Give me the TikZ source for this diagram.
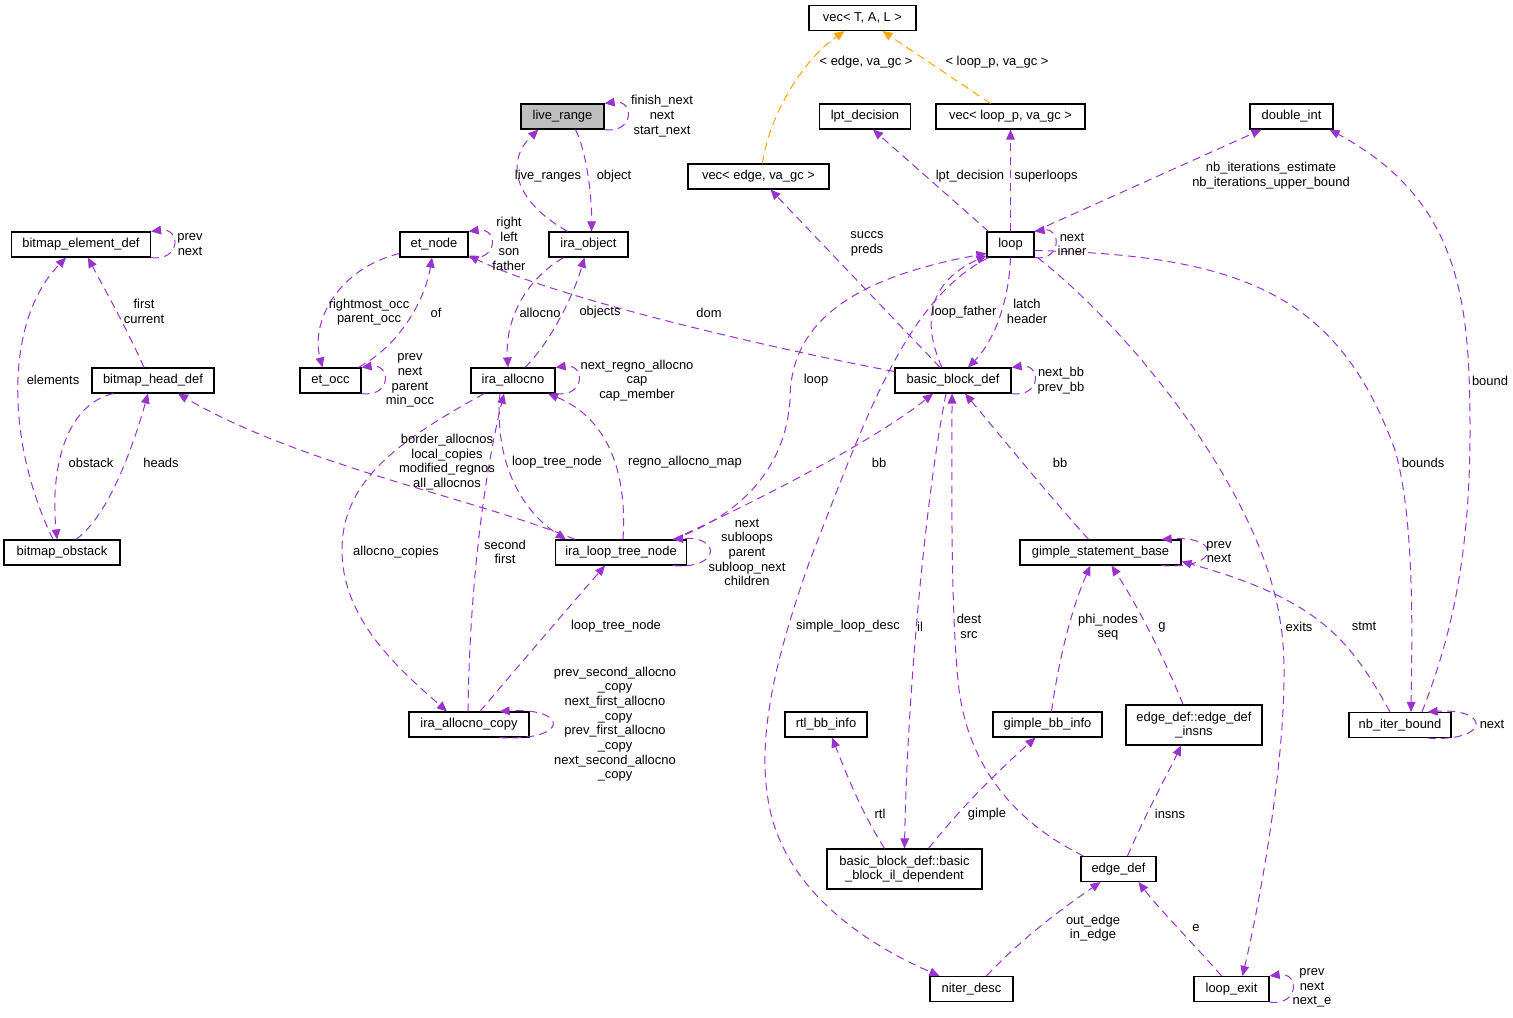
\documentclass[tikz,border=0pt]{standalone}
\usepackage{fontspec}
\setmainfont{Liberation Sans}
\usepackage{xcolor}
\usetikzlibrary{arrows.meta,calc}

\definecolor{memberPurple}{HTML}{9A32CD}
\definecolor{tmplOrange}{HTML}{FFA500}
\definecolor{focusGray}{HTML}{BFBFBF}

\tikzset{
  cls/.style={draw=black, line width=0.9pt, fill=white, inner sep=0pt, align=center,
    minimum height=18.75pt, minimum width=#1*0.75pt, font=\fontsize{9.7}{11}\selectfont},
  lbl/.style={inner sep=0pt, align=center, font=\fontsize{9.7}{11}\selectfont},
  memberEdge/.style={draw=memberPurple, line width=0.75pt, dash pattern=on 6pt off 4pt,
    -{Triangle[length=7.5pt,width=6.5pt]}},
  tmplEdge/.style={memberEdge, draw=tmplOrange}
}

\begin{document}
\begin{tikzpicture}[x=0.75pt,y=-0.75pt]
        \newcommand\selfLoop[3]{\draw[memberEdge] ($(#1.south east)+(-#2,0)$) .. controls +(#3,4) and +(#3,-4) .. ($(#1.north east)+(-#2,0)$)}
        \path[use as bounding box, fill=white] (0,0) rectangle (1513,1017);

        % classes
        \node[cls=107] (vecTAL) at (862.5,18) {vec< T, A, L >};
        \node[cls=83, fill=focusGray] (liveRange) at (562.5,116.5) {live\_range};
        \node[cls=91] (lptDecision) at (865,116.5) {lpt\_decision};
        \node[cls=149] (vecLoopP) at (1010.5,116.5) {vec< loop\_p, va\_gc >};
        \node[cls=83] (doubleInt) at (1291.5,116.5) {double\_int};
        \node[cls=141] (vecEdge) at (758.5,176.5) {vec< edge, va\_gc >};
        \node[cls=139] (bitmapElementDef) at (81,244.5) {bitmap\_element\_def};
        \node[cls=68] (etNode) at (434,244.5) {et\_node};
        \node[cls=79] (iraObject) at (588.5,244.5) {ira\_object};
        \node[cls=47] (loopStruct) at (1010.5,244.5) {loop};
        \node[cls=122] (bitmapHeadDef) at (153,380.5) {bitmap\_head\_def};
        \node[cls=61] (etOcc) at (330.5,380.5) {et\_occ};
        \node[cls=84] (iraAllocno) at (513,380.5) {ira\_allocno};
        \node[cls=116] (basicBlockDef) at (953,380.5) {basic\_block\_def};
        \node[cls=116] (bitmapObstack) at (62,552.5) {bitmap\_obstack};
        \node[cls=131] (iraLoopTreeNode) at (621,552.5) {ira\_loop\_tree\_node};
        \node[cls=161] (gimpleStmtBase) at (1100.5,552.5) {gimple\_statement\_base};
        \node[cls=120] (iraAllocnoCopy) at (469,724.5) {ira\_allocno\_copy};
        \node[cls=82] (rtlBbInfo) at (826,724.5) {rtl\_bb\_info};
        \node[cls=109] (gimpleBbInfo) at (1047.5,724.5) {gimple\_bb\_info};
        \node[cls=136, minimum height=30pt] (edgeDefInsns) at (1194,725) {edge\_def::edge\_def\\\_insns};
        \node[cls=102] (nbIterBound) at (1400,725) {nb\_iter\_bound};
        \node[cls=155, minimum height=30pt] (bbIlDependent) at (904.5,869) {basic\_block\_def::basic\\\_block\_il\_dependent};
        \node[cls=75] (edgeDef) at (1118.5,869) {edge\_def};
        \node[cls=83] (niterDesc) at (971.5,989) {niter\_desc};
        \node[cls=75] (loopExit) at (1231.5,989) {loop\_exit};

        % template instances
        \draw[tmplEdge] ($(vecEdge.north)+(4,0)$) .. controls (768,120) and (800,62) .. ($(vecTAL.south)+(-18,0)$);
        \draw[tmplEdge] ($(vecLoopP.north)+(-20,0)$) -- ($(vecTAL.south)+(20,0)$);

        % live ranges, bitmaps, et
        \selfLoop{liveRange}{0}{30};
        \draw[memberEdge] ($(liveRange.south)+(13,0)$) .. controls (586,150) and (592,195) .. ($(iraObject.north)+(3,0)$);
        \draw[memberEdge] ($(iraObject.north)+(-21,0)$) .. controls (512,200) and (506,160) .. ($(liveRange.south)+(-24,0)$);
        \selfLoop{bitmapElementDef}{0}{30};
        \draw[memberEdge] ($(bitmapHeadDef.north)+(-9,0)$) .. controls (125,325) and (105,290) .. ($(bitmapElementDef.south)+(7,0)$);
        \draw[memberEdge] ($(bitmapObstack.north)+(-9,0)$) .. controls (5,440) and (5,320) .. ($(bitmapElementDef.south)+(-15,0)$);
        \draw[memberEdge] ($(bitmapHeadDef.south)+(-40,0)$) .. controls (65,405) and (50,470) .. ($(bitmapObstack.north)+(-5,0)$);
        \draw[memberEdge] ($(bitmapObstack.north)+(14,0)$) .. controls (110,515) and (135,440) .. ($(bitmapHeadDef.south)+(-5,0)$);
        \draw[memberEdge] ($(iraLoopTreeNode.north)+(-46,0)$) .. controls (480,500) and (300,465) .. ($(bitmapHeadDef.south)+(25,0)$);
        \selfLoop{etNode}{0}{30};
        \selfLoop{etOcc}{0}{30};
        \draw[memberEdge] ($(etNode.west)+(0,9)$) .. controls (340,268) and (310,320) .. ($(etOcc.north)+(-8,0)$);
        \draw[memberEdge] ($(etOcc.north)+(28,0)$) .. controls (400,345) and (425,300) .. ($(etNode.south)+(-2,0)$);
        \draw[memberEdge] ($(basicBlockDef.west)+(0,-9)$) .. controls (780,350) and (560,300) .. ($(etNode.east)+(0,11)$);

        % ira
        \draw[memberEdge] ($(iraObject.south)+(-25,0)$) .. controls (525,280) and (505,320) .. ($(iraAllocno.north)+(-5,0)$);
        \draw[memberEdge] ($(iraAllocno.north)+(12,0)$) .. controls (548,345) and (572,300) .. ($(iraObject.south)+(-4,0)$);
        \selfLoop{iraAllocno}{0}{30};
        \draw[memberEdge] ($(iraLoopTreeNode.north)+(2,0)$) .. controls (628,460) and (600,415) .. ($(iraAllocno.south)+(35,0)$);
        \draw[memberEdge] ($(iraAllocno.south)+(-13,0)$) .. controls (494,460) and (520,510) .. ($(iraLoopTreeNode.north)+(-55,0)$);
        \draw[memberEdge] ($(iraAllocnoCopy.north)+(-1,0)$) .. controls (470,560) and (490,450) .. ($(iraAllocno.south)+(-9,0)$);
        \draw[memberEdge] ($(iraAllocno.south)+(-29,0)$) .. controls (400,440) and (342,480) .. (342,550) .. controls (342,620) and (400,670) .. ($(iraAllocnoCopy.north)+(-22,0)$);
        \draw[memberEdge] ($(iraAllocnoCopy.north)+(11,0)$) .. controls (515,670) and (575,600) .. ($(iraLoopTreeNode.south)+(-16,0)$);
        \selfLoop{iraAllocnoCopy}{30}{70};
        \selfLoop{iraLoopTreeNode}{14}{48};

        % loop
        \draw[memberEdge] ($(iraLoopTreeNode.north east)+(-14,0)$) .. controls (740,515) and (785,470) .. (790,400) .. controls (790,330) and (840,280) .. ($(loopStruct.west)+(0,9)$);
        \draw[memberEdge] ($(iraLoopTreeNode.north east)+(-14,0)$) .. controls (760,500) and (875,440) .. ($(basicBlockDef.south)+(-20,0)$);
        \draw[memberEdge] ($(basicBlockDef.north)+(-13,0)$) -- ($(vecEdge.south)+(12,0)$);
        \draw[memberEdge] ($(basicBlockDef.north)+(-11,0)$) .. controls (925,330) and (922,285) .. ($(loopStruct.west)+(0,11)$);
        \draw[memberEdge] (loopStruct.south) .. controls (1009,300) and (995,340) .. ($(basicBlockDef.north)+(15,0)$);
        \selfLoop{basicBlockDef}{0}{30};
        \selfLoop{loopStruct}{0}{27};
        \draw[memberEdge] ($(loopStruct.north)+(-22,0)$) -- ($(lptDecision.south)+(8,0)$);
        \draw[memberEdge] (loopStruct.north) -- (vecLoopP.south);
        \draw[memberEdge] (loopStruct.north east) -- ($(doubleInt.south west)+(12,0)$);
        \draw[memberEdge] ($(loopStruct.east)+(0,6)$) .. controls (1250,255) and (1340,300) .. (1395,450) .. controls (1415,520) and (1412,640) .. ($(nbIterBound.north)+(11,0)$);
        \draw[memberEdge] ($(loopStruct.south east)+(3,0)$) .. controls (1130,330) and (1260,490) .. (1280,620) .. controls (1295,700) and (1265,880) .. ($(loopExit.north)+(11,0)$);
        \draw[memberEdge] ($(loopStruct.south west)+(2,0)$) .. controls (905,300) and (865,420) .. (810,560) .. controls (775,660) and (755,740) .. (770,810) .. controls (790,900) and (880,950) .. ($(niterDesc.north west)+(10,0)$);
        \draw[memberEdge] ($(nbIterBound.north)+(22,0)$) .. controls (1450,640) and (1470,560) .. (1470,430) .. controls (1470,300) and (1460,200) .. ($(doubleInt.south east)+(-4,0)$);

        % blocks, statements, edges
        \draw[memberEdge] ($(basicBlockDef.south)+(-7,0)$) .. controls (925,500) and (907,700) .. (bbIlDependent.north);
        \draw[memberEdge] ($(edgeDef.north west)+(3,0)$) .. controls (1010,820) and (965,760) .. (958,680) .. controls (950,600) and (952,450) .. ($(basicBlockDef.south)+(-1,0)$);
        \draw[memberEdge] ($(gimpleStmtBase.north)+(-12,0)$) .. controls (1040,485) and (1000,435) .. ($(basicBlockDef.south)+(12,0)$);
        \selfLoop{gimpleStmtBase}{20}{60};
        \draw[memberEdge] ($(nbIterBound.north)+(-10,0)$) .. controls (1350,640) and (1320,600) .. ($(gimpleStmtBase.east)+(0,9)$);
        \draw[memberEdge] ($(gimpleBbInfo.north)+(4,0)$) .. controls (1060,650) and (1075,600) .. ($(gimpleStmtBase.south)+(-10,0)$);
        \draw[memberEdge] ($(edgeDefInsns.north)+(-11,0)$) .. controls (1165,660) and (1140,610) .. ($(gimpleStmtBase.south)+(11,0)$);
        \selfLoop{nbIterBound}{24}{63};
        \draw[memberEdge] ($(bbIlDependent.north)+(-20,0)$) .. controls (860,810) and (845,770) .. ($(rtlBbInfo.south)+(6,0)$);
        \draw[memberEdge] ($(bbIlDependent.north)+(24,0)$) .. controls (970,797) and (1005,765) .. ($(gimpleBbInfo.south)+(-12,0)$);
        \draw[memberEdge] ($(edgeDef.north)+(9,0)$) .. controls (1150,805) and (1168,773) .. ($(edgeDefInsns.south)+(-13,0)$);
        \draw[memberEdge] ($(niterDesc.north)+(15,0)$) .. controls (1020,940) and (1060,910) .. ($(edgeDef.south)+(-18,0)$);
        \draw[memberEdge] ($(loopExit.north)+(-10,0)$) .. controls (1190,940) and (1160,910) .. ($(edgeDef.south)+(20,0)$);
        \selfLoop{loopExit}{0}{30};

        % member names
        \node[lbl] (lblEdgeVa) at (866,62) {< edge, va\_gc >};
        \node[lbl] (lblLoopVa) at (997,62) {< loop\_p, va\_gc >};
        \node[lbl] (lblLiveSelf) at (662,116) {finish\_next\\next\\start\_next};
        \node[lbl] (lblLiveRanges) at (548,176) {live\_ranges};
        \node[lbl] (lblObject) at (614,176) {object};
        \node[lbl] (lblLptDecision) at (970,176) {lpt\_decision};
        \node[lbl] (lblSuperloops) at (1046,176) {superloops};
        \node[lbl] (lblNbIter) at (1271,175.5) {nb\_iterations\_estimate\\nb\_iterations\_upper\_bound};
        \node[lbl] (lblBitmapSelf) at (190,244.5) {prev\\next};
        \node[lbl] (lblEtNodeSelf) at (509,244) {right\\left\\son\\father};
        \node[lbl] (lblSuccs) at (867,244) {succs\\preds};
        \node[lbl] (lblLoopSelf) at (1072,244.5) {next\\inner};
        \node[lbl] (lblFirst) at (144,311.5) {first\\current};
        \node[lbl] (lblOccs) at (369,312) {rightmost\_occ\\parent\_occ};
        \node[lbl] (lblOf) at (436,312.5) {of};
        \node[lbl] (lblAllocno) at (540,312.5) {allocno};
        \node[lbl] (lblObjects) at (600,312.5) {objects};
        \node[lbl] (lblDom) at (709,312.5) {dom};
        \node[lbl] (lblLoopFather) at (964,312) {loop\_father};
        \node[lbl] (lblLatch) at (1027,311.5) {latch\\header};
        \node[lbl] (lblElements) at (53,380) {elements};
        \node[lbl] (lblEtOccSelf) at (410,380.5) {prev\\next\\parent\\min\_occ};
        \node[lbl] (lblAllocnoSelf) at (637,380.5) {next\_regno\_allocno\\cap\\cap\_member};
        \node[lbl] (lblLoop) at (816,380.5) {loop};
        \node[lbl] (lblBbSelf) at (1061,380.5) {next\_bb\\prev\_bb};
        \node[lbl] (lblBound) at (1490,380.5) {bound};
        \node[lbl] (lblObstack) at (91,462.5) {obstack};
        \node[lbl] (lblHeads) at (161,462.5) {heads};
        \node[lbl] (lblBorder) at (447,462) {border\_allocnos\\local\_copies\\modified\_regnos\\all\_allocnos};
        \node[lbl] (lblLoopTree) at (557,462.5) {loop\_tree\_node};
        \node[lbl] (lblRegnoMap) at (685,462.5) {regno\_allocno\_map};
        \node[lbl] (lblBbLoopTree) at (879,462.5) {bb};
        \node[lbl] (lblBbStmt) at (1060,462.5) {bb};
        \node[lbl] (lblBounds) at (1423,462.5) {bounds};
        \node[lbl] (lblAllocnoCopies) at (396,552.5) {allocno\_copies};
        \node[lbl] (lblSecond) at (505,552) {second\\first};
        \node[lbl] (lblLoopTreeSelf) at (747,552.5) {next\\subloops\\parent\\subloop\_next\\children};
        \node[lbl] (lblStmtSelf) at (1219,552) {prev\\next};
        \node[lbl] (lblCopyLoopTree) at (616,626.5) {loop\_tree\_node};
        \node[lbl] (lblSimpleLoop) at (848,626.5) {simple\_loop\_desc};
        \node[lbl] (lblIl) at (920,626.5) {il};
        \node[lbl] (lblDest) at (969,626.5) {dest\\src};
        \node[lbl] (lblPhi) at (1108,627) {phi\_nodes\\seq};
        \node[lbl] (lblG) at (1162,627) {g};
        \node[lbl] (lblExits) at (1299,626.5) {exits};
        \node[lbl] (lblStmt) at (1364,626.5) {stmt};
        \node[lbl] (lblCopySelf) at (615,724) {prev\_second\_allocno\\\_copy\\next\_first\_allocno\\\_copy\\prev\_first\_allocno\\\_copy\\next\_second\_allocno\\\_copy};
        \node[lbl] (lblNbSelf) at (1492,724.5) {next};
        \node[lbl] (lblRtl) at (880,814) {rtl};
        \node[lbl] (lblGimple) at (987,814) {gimple};
        \node[lbl] (lblInsns) at (1170,814) {insns};
        \node[lbl] (lblOutEdge) at (1093,928) {out\_edge\\in\_edge};
        \node[lbl] (lblE) at (1196,928.5) {e};
        \node[lbl] (lblExitSelf) at (1312,988) {prev\\next\\next\_e};
\end{tikzpicture}
\end{document}
